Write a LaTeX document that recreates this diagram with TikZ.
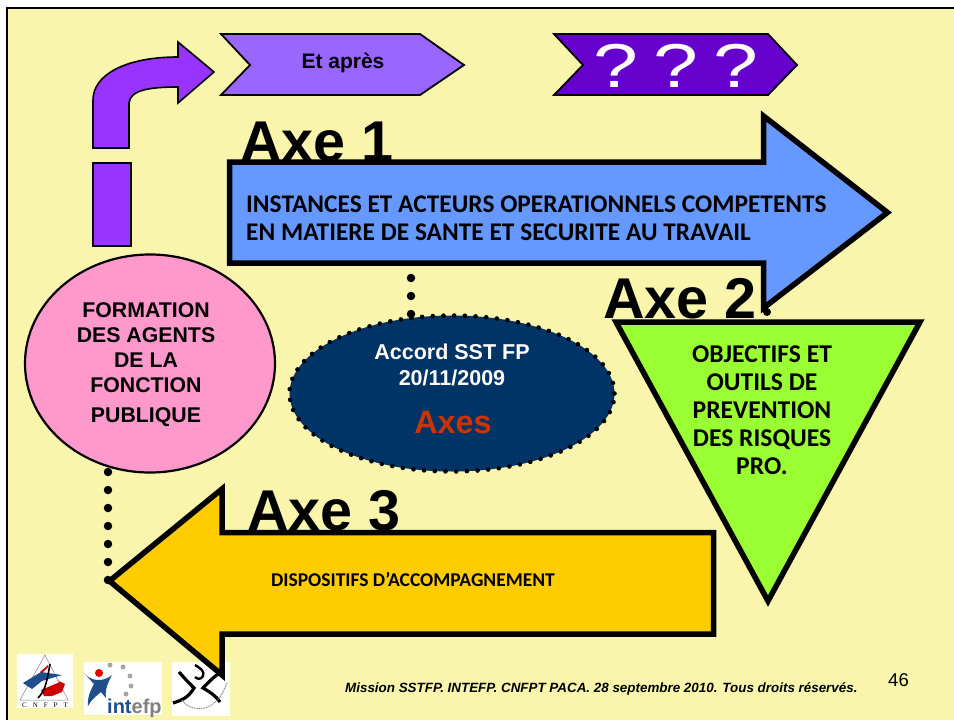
\documentclass[tikz,border=0pt]{standalone}
\usepackage{fontspec}
\setmainfont{Liberation Sans}
\newfontfamily\cali{Carlito}
\newfontfamily\serifl{Liberation Serif}
\usetikzlibrary{shapes.geometric}
\definecolor{bgy}{HTML}{F9F5AC}
\definecolor{vio}{HTML}{9933FF}
\definecolor{lilac}{HTML}{9966FF}
\definecolor{deepv}{HTML}{6600CC}
\definecolor{blu}{HTML}{6699FF}
\definecolor{gren}{HTML}{99FF33}
\definecolor{gold}{HTML}{FFCC00}
\definecolor{pinky}{HTML}{FF99CC}
\definecolor{navy}{HTML}{003366}
\definecolor{rust}{HTML}{CC3300}
\definecolor{logoblue}{HTML}{1F4E8C}
\tikzset{
 axe/.style={font=\fontsize{57.5}{57.5}\selectfont\bfseries,inner sep=0pt,anchor=base west},
 thick5/.style={draw=black,line width=5.5pt,miter limit=10,line join=miter},
 thin3/.style={draw=black,line width=1.8pt,line join=miter},
 cal/.style={font=\cali\bfseries\fontsize{25.4}{28}\selectfont,inner sep=0pt,align=left},
 dotline/.style={line width=8.5pt,line cap=round,dash pattern=on 0pt off 18pt},
 logobox/.style={fill=white,draw=none}
}
\begin{document}
\begin{tikzpicture}[x=1pt,y=-1pt]
\useasboundingbox (0,0) rectangle (954,720);
\fill[white] (0,0) rectangle (954,720);
\fill[bgy] (7,8) rectangle (960,726);
\draw[line width=2.2pt] (7,730) -- (7,8) -- (960,8);
% Axis labels behind
\node[axe] (axeone) at (240,161) {Axe 1};
\node[axe] (axethree) at (247,530) {Axe 3};
% bent arrow
\path[fill=vio,draw=black,line width=1.6pt,line join=miter]
 (93,148) -- (93,100) .. controls (93,75) and (125,57) .. (178,57) -- (178,42) -- (214,72) -- (178,103) -- (178,87) .. controls (150,87) and (130,90) .. (129,103) -- (129,148) -- cycle;
\path[fill=vio,draw=black,line width=1.8pt] (93,163) rectangle (131,246);
% chevrons
\path[fill=lilac,thin3] (221,34) -- (420,34) -- (464,65) -- (420,95) -- (221,95) -- (250,65) -- cycle;
\node[font=\fontsize{21}{21}\selectfont\bfseries,inner sep=0pt] (etapres) at (343,63) {Et après};
\path[fill=deepv,thin3] (554,34) -- (768,34) -- (797,65) -- (768,95) -- (554,95) -- (583,65) -- cycle;
\node[font=\fontsize{62}{62}\selectfont,text=white,inner sep=0pt] (qmarks) at (676,66) {\scalebox{1.3}[1]{?\hspace{12pt}?\hspace{12pt}?}};
% dotted connectors
\coordinate (dotbS) at (108,472);
\coordinate (dotbE) at (108,580);
\draw[dotline] (dotbS) -- (dotbE);
% connector dot between arrow and triangle
\coordinate (dotc) at (767,312);
\fill (dotc) circle (4pt);
% arrow 1
\path[fill=blu,thick5] (229.5,162) -- (763.5,162) -- (763.5,116) -- (887.5,212.5) -- (763.5,308) -- (763.5,263) -- (229.5,263) -- cycle;
\node[cal,anchor=west] (axeonetxt) at (246,218) {INSTANCES ET ACTEURS OPERATIONNELS COMPETENTS\\EN MATIERE DE SANTE ET SECURITE AU TRAVAIL};
% triangle
\path[fill=gren,thick5] (616,322) -- (920,322) -- (768,601) -- cycle;
\node[axe] (axetwo) at (603,318) {Axe 2};
\node[font=\cali\bfseries\fontsize{25.6}{28}\selectfont,align=center,inner sep=0pt] (trtxt) at (762,410) {OBJECTIFS ET\\OUTILS DE\\PREVENTION\\DES RISQUES\\PRO.};
% pink ellipse
\node[ellipse,fill=pinky,draw=black,line width=2.2pt,minimum width=250pt,minimum height=218pt,inner sep=0pt,align=center] (pink) at (150,363.5) {};
\node[font=\fontsize{21.3}{25}\selectfont\bfseries,align=center,inner sep=0pt] (pinktxt) at (146,365) {FORMATION\\DES AGENTS\\DE LA\\FONCTION\\[5pt]PUBLIQUE};
% navy ellipse
\node[ellipse,fill=navy,draw=black,line width=4.6pt,dash pattern=on 0pt off 10.7pt,line cap=round,minimum width=325pt,minimum height=156pt,inner sep=0pt] (navyell) at (452,393.5) {};
\coordinate (dotaS) at (411,278);
\coordinate (dotaE) at (411,315);
\draw[dotline] (dotaS) -- (dotaE);
\node[font=\fontsize{21.5}{26}\selectfont\bfseries,text=white,align=center,inner sep=0pt] (acc) at (452,365) {Accord SST FP\\20/11/2009};
\node[font=\fontsize{32.4}{32}\selectfont\bfseries,text=rust,inner sep=0pt] (axes) at (453,423) {Axes};
% logos
\path[logobox] (17,654) rectangle (73,708);
\draw[gray,line width=.5pt] (45,655) -- (20,700) -- (68,700) -- cycle;
\fill[logoblue] (23,683) -- (41,672) -- (62,675) -- (42,681) -- (32,689) -- cycle;
\fill[red!80!black] (41,690) -- (60,682) -- (57,680) -- (65,684) -- (62,692) -- (52,696) -- (44,696) -- cycle;
\fill[red!80!black] (40,672) -- (48,665) -- (48,667) -- (42,673) -- cycle;
\draw[black,line width=1.6pt] (50,664) .. controls (47,680) and (46,690) .. (38,698);
\node[font=\serifl\fontsize{7}{7}\selectfont,inner sep=0pt] (cnfpt) at (45,705) {C\hspace{6pt}N\hspace{6pt}F\hspace{6pt}P\hspace{6pt}T};
\path[logobox] (84,662) rectangle (162,715);
\fill[red!90!black] (99,673) circle (4pt);
\fill[logoblue] (84,673) .. controls (91,682) and (104,682) .. (112,675) .. controls (106,686) and (105,692) .. (106,698) -- (101,692) .. controls (96,696) and (91,700) .. (88,706) .. controls (87,696) and (92,688) .. (94,684) -- cycle;
\foreach \p in {(110,665),(123,667),(130,676),(131,686),(126,694)} \fill[gray!70] \p circle (2.5pt);
\node[font=\fontsize{20}{20}\selectfont\bfseries,inner sep=0pt,anchor=base west] (intefp) at (107,713) {\textcolor{logoblue}{int}\textcolor{gray}{efp}};
\path[logobox] (172,662) rectangle (230,716);
\draw[black,line width=3.2pt] (179,672) .. controls (186,680) and (190,684) .. (194,688) .. controls (188,698) and (182,700) .. (173,703);
\draw[black,line width=3.2pt] (221,672) .. controls (212,678) and (207,684) .. (203,688) .. controls (210,692) and (216,696) .. (220,702);
\draw[black,line width=2.4pt] (195,665) .. controls (200,668) and (205,671) .. (203,676) .. controls (201,680) and (197,679) .. (195,677);
\draw[gray,line width=1pt,dash pattern=on 1pt off .8pt] (182,700) .. controls (190,712) and (215,716) .. (227,683);
% arrow 3
\path[fill=gold,thick5] (713.5,532.5) -- (713.5,634) -- (222,634) -- (222,675) -- (109.5,581) -- (222,489) -- (222,532.5) -- cycle;
\node[font=\cali\bfseries\fontsize{19.5}{20}\selectfont,inner sep=0pt] (dtxt) at (413,579) {DISPOSITIFS D’ACCOMPAGNEMENT};
% footer
\node[font=\fontsize{13.4}{14}\selectfont\bfseries\itshape,inner sep=0pt,anchor=west] (foot) at (345,689) {Mission SSTFP. INTEFP. CNFPT PACA. 28 septembre 2010. Tous droits réservés.};
\node[font=\fontsize{18.5}{18}\selectfont,inner sep=0pt] (num) at (898.5,680) {46};
\end{tikzpicture}
\end{document}
